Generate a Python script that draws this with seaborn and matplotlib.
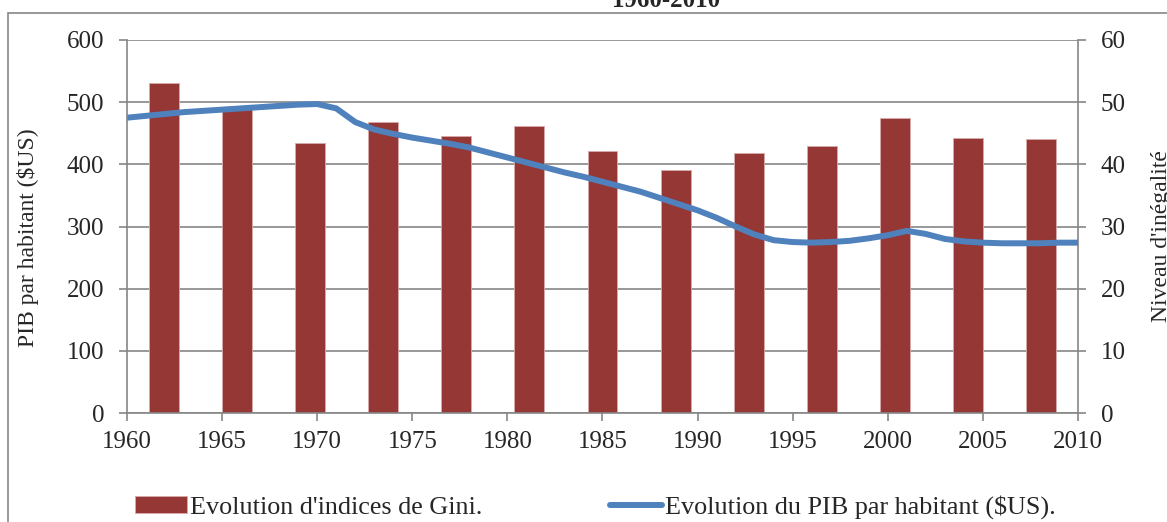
import matplotlib
matplotlib.use('Agg')
import matplotlib.pyplot as plt
import seaborn as sns
from matplotlib.patches import Rectangle

# ---- data ----
# PIB par habitant ($US), one value per year (left axis)
years = list(range(1960, 2011))
pib = [475, 478, 481, 484, 486, 488, 490, 492, 494, 496,
       497, 490, 468, 456, 449, 443, 438, 433, 427, 419,
       411, 403, 395, 387, 380, 372, 364, 356, 346, 336,
       326, 314, 300, 287, 278, 275, 274, 275, 277, 281,
       286, 293, 288, 280, 276, 274, 273, 273, 273, 274,
       274]

# Gini indices, 13 observations (right axis)
gini_obs = ['1', '2', '3', '4', '5', '6', '7', '8', '9', '10', '11', '12', '13']
gini = [53.1, 48.9, 43.4, 46.8, 44.6, 46.1, 42.2, 39.1, 41.8, 43.0, 47.5, 44.3, 44.1]

year_ticks = list(range(1960, 2011, 5))
pib_ticks = list(range(0, 601, 100))
gini_ticks = list(range(0, 61, 10))

RED = '#953735'
BLUE = '#4F81BD'
GRAY = '#868686'

sns.set_theme(style='white')
plt.rcParams['font.family'] = ['Liberation Serif', 'DejaVu Serif']

fig = plt.figure(figsize=(11.67, 5.22), dpi=100)
pos = [127 / 1167, 1 - 413 / 522, (1078 - 127) / 1167, (413 - 40) / 522]

# ---- bars: Gini on the right axis, categorical x ----
ax_bar = fig.add_axes(pos)
sns.barplot(x=gini_obs, y=gini, color=RED, width=0.41, saturation=1,
            edgecolor='#d8aaa9', linewidth=0.6, ax=ax_bar)
ax_bar.set_xlim(-0.5, 12.5)
ax_bar.set_ylim(0, 60)
ax_bar.set_yticks(gini_ticks)
ax_bar.set_xticks([])
ax_bar.set_xlabel('')
ax_bar.set_ylabel('')
ax_bar.yaxis.tick_right()
ax_bar.yaxis.grid(True, color=GRAY, linewidth=1.2)
ax_bar.set_axisbelow(True)
for s in ['top', 'left', 'bottom']:
    ax_bar.spines[s].set_visible(False)
ax_bar.spines['right'].set_color(GRAY)
ax_bar.spines['right'].set_linewidth(1.2)
ax_bar.tick_params(axis='y', right=True, direction='out', length=5.8, width=1.2,
                   color=GRAY, labelsize=18, pad=10.5)

# ---- line: PIB on the left axis, year x ----
ax_line = fig.add_axes(pos, facecolor='none')
sns.lineplot(x=years, y=pib, color=BLUE, linewidth=4.3, ax=ax_line)
ax_line.lines[0].set_solid_capstyle('round')
ax_line.lines[0].set_solid_joinstyle('round')
ax_line.set_xlim(1960, 2010)
ax_line.set_ylim(0, 600)
ax_line.set_xticks(year_ticks)
ax_line.set_yticks(pib_ticks)
ax_line.set_xlabel('')
ax_line.set_ylabel('')
for s in ['top', 'right']:
    ax_line.spines[s].set_visible(False)
for s in ['left', 'bottom']:
    ax_line.spines[s].set_color(GRAY)
    ax_line.spines[s].set_linewidth(1.2)
ax_line.tick_params(axis='both', left=True, bottom=True, direction='out', length=5.8,
                    width=1.2, color=GRAY, labelsize=18)
ax_line.tick_params(axis='y', pad=10.5)
ax_line.tick_params(axis='x', pad=7)

# ---- texts ----
fig.text(28 / 1167, 1 - 238 / 522, 'PIB par habitant ($US)', rotation=90,
         ha='center', va='center', fontsize=17)
fig.text(1161 / 1167, 1 - 236 / 522, "Niveau d'inégalité", rotation=90,
         ha='center', va='center', fontsize=17)
fig.text(666 / 1167, 1 - 7 / 522, '1960-2010', ha='center', va='baseline',
         fontsize=18, fontweight='bold')

# ---- legend ----
handles = [ax_bar.patches[0], ax_line.lines[0]]
labels = ["Evolution d'indices de Gini.", 'Evolution du PIB par habitant ($US).']
fig.legend(handles, labels, loc='center left', bbox_to_anchor=(135 / 1167, 1 - 507 / 522),
           ncol=2, frameon=False, fontsize=18.8, handlelength=2.0, handleheight=0.65,
           handletextpad=0.1, columnspacing=4.9, borderpad=0, borderaxespad=0)

# ---- outer chart frame (cut off at right and bottom) ----
fig.add_artist(Rectangle((8 / 1167, -0.2), 1.2, 1.2 - 13 / 522, transform=fig.transFigure,
                         fill=False, edgecolor=GRAY, linewidth=1.2, clip_on=False))

fig.savefig('out.png', dpi=100)
